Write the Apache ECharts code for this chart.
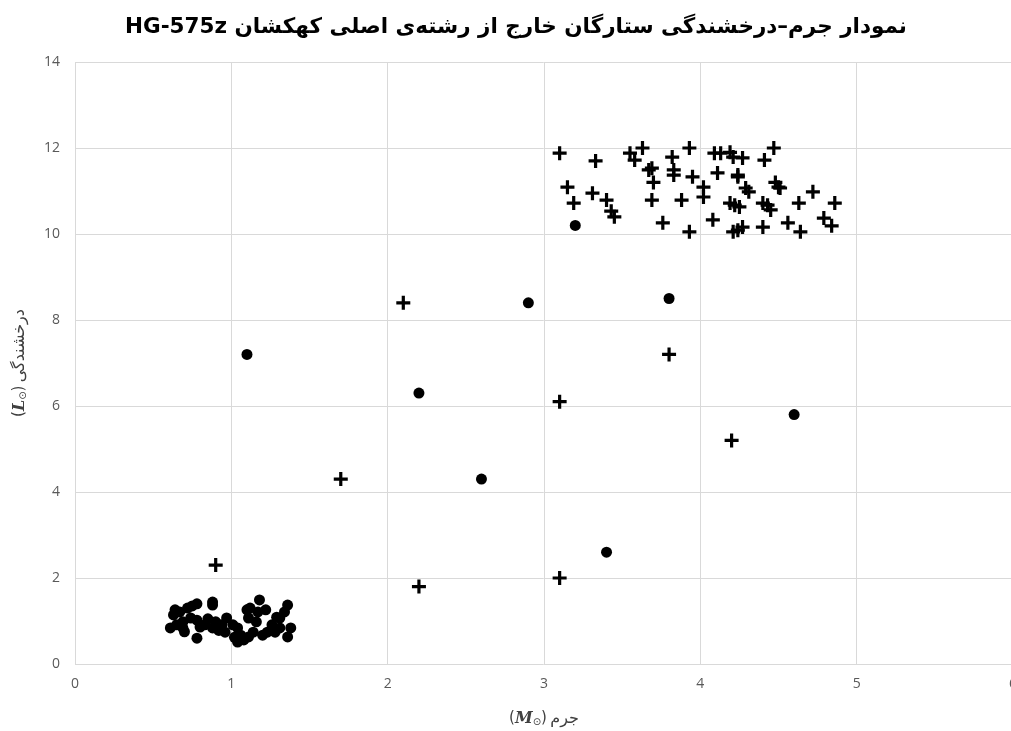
<!DOCTYPE html>
<html>
<head>
<meta charset="utf-8">
<script src="https://cdn.jsdelivr.net/npm/echarts@6/dist/echarts.min.js"></script>
<style>
html,body{margin:0;padding:0;background:#fff;}
#chart{width:1011px;height:731px;}
</style>
</head>
<body>
<div id="chart"></div>
<script>
// ---- data ----
const titleText = "نمودار جرم–درخشندگی ستارگان خارج از رشته‌ی اصلی کهکشان HG-575z";
const xTicks = [0, 1, 2, 3, 4, 5, 6];
const yTicks = [0, 2, 4, 6, 8, 10, 12, 14];

// filled circles
const circleX = [3.2, 2.9, 3.8, 1.1, 2.2, 4.6, 2.6, 3.4,
  0.64, 0.63, 0.67, 0.72, 0.75, 0.78, 0.88, 0.88, 0.61, 0.65, 0.69, 0.74,
  0.69, 0.78, 0.80, 0.78, 0.83, 0.88, 0.90, 0.94, 0.97, 0.96, 1.01, 1.04,
  1.06, 1.08, 1.04, 1.11, 1.10, 1.11, 1.14, 1.16, 1.17, 1.18, 1.22, 1.20,
  1.23, 1.26, 1.29, 1.31, 1.34, 1.36, 1.28, 1.31, 1.38, 1.36, 1.12, 0.85,
  0.92, 1.02, 0.70];
const circleY = [10.2, 8.4, 8.5, 7.2, 6.3, 5.8, 4.3, 2.6,
  1.26, 1.14, 1.21, 1.30, 1.35, 1.40, 1.44, 1.37, 0.84, 0.91, 0.98, 1.07,
  0.84, 1.02, 0.86, 0.60, 0.91, 0.84, 0.98, 0.91, 1.07, 0.74, 0.91, 0.84,
  0.67, 0.56, 0.51, 1.07, 1.26, 0.63, 0.74, 0.98, 1.21, 1.49, 1.26, 0.67,
  0.74, 0.91, 1.09, 1.07, 1.21, 1.37, 0.74, 0.84, 0.84, 0.63, 1.30, 1.05,
  0.78, 0.62, 0.75];

// plus markers
const crossX = [2.1, 3.8, 3.1, 4.2, 1.7, 0.9, 2.2, 3.1,
  3.10, 3.33, 3.55, 3.63, 3.58, 3.67, 3.69, 3.70, 3.15, 3.19, 3.31, 3.40,
  3.43, 3.45, 3.69,
  3.93, 3.82, 4.09, 4.13, 4.19, 4.21, 4.27, 3.83, 3.83, 3.95, 4.11, 4.24,
  4.24, 4.02, 4.02, 4.29, 4.31, 3.88, 4.19, 4.22, 4.25, 3.76, 3.93, 4.08,
  4.21, 4.24, 4.27,
  4.47, 4.41, 4.48, 4.50, 4.51, 4.72, 4.40, 4.43, 4.45, 4.63, 4.86, 4.40,
  4.56, 4.64, 4.79, 4.84];
const crossY = [8.4, 7.2, 6.1, 5.2, 4.3, 2.3, 1.8, 2.0,
  11.88, 11.70, 11.88, 12.0, 11.72, 11.49, 11.53, 11.20, 11.09, 10.72, 10.95, 10.79,
  10.53, 10.40, 10.79,
  12.0, 11.79, 11.88, 11.88, 11.90, 11.79, 11.77, 11.49, 11.37, 11.33, 11.42, 11.33,
  11.37, 11.09, 10.86, 11.07, 10.98, 10.79, 10.72, 10.67, 10.63, 10.26, 10.05, 10.33,
  10.05, 10.09, 10.16,
  12.0, 11.72, 11.20, 11.09, 11.07, 10.98, 10.72, 10.67, 10.56, 10.72, 10.72, 10.16,
  10.26, 10.05, 10.37, 10.19];

// ---- chart ----
const circleData = circleX.map((x, i) => [x, circleY[i]]);
const crossData = crossX.map((x, i) => [x, crossY[i]]);
const plusPath = 'path://M-1.6,-7L1.6,-7L1.6,-1.6L7,-1.6L7,1.6L1.6,1.6L1.6,7L-1.6,7L-1.6,1.6L-7,1.6L-7,-1.6L-1.6,-1.6Z';
const arabicFont = '"DejaVu Sans", sans-serif';

const nameRich = {
  p: {fontFamily: arabicFont, fontSize: 15, color: '#404040'},
  m: {fontFamily: '"DejaVu Serif", serif', fontWeight: 'bold', fontStyle: 'italic', fontSize: 16, color: '#404040'},
  s: {fontFamily: '"DejaVu Sans", sans-serif', fontSize: 10, color: '#404040', verticalAlign: 'bottom', padding: [7, 0, 0, 0]},
  a: {fontFamily: arabicFont, fontSize: 16, color: '#404040'}
};

const chart = echarts.init(document.getElementById('chart'), null, {renderer: 'canvas'});
chart.setOption({
  backgroundColor: '#ffffff',
  animation: false,
  title: {
    text: '\u202B' + titleText + '\u202C',
    left: 120,
    top: 11,
    textStyle: {fontFamily: arabicFont, fontWeight: 'bold', fontSize: 21.5, color: '#000'}
  },
  grid: {left: 75, right: -2, top: 62, bottom: 67, containLabel: false, outerBoundsMode: 'none'},
  xAxis: {
    type: 'value',
    min: xTicks[0], max: xTicks[xTicks.length - 1], interval: 1,
    axisLine: {show: false}, axisTick: {show: false},
    splitLine: {show: true, lineStyle: {color: '#d9d9d9', width: 1}},
    axisLabel: {color: '#595959', fontSize: 14, fontFamily: '"Open Sans", sans-serif', margin: 13},
    name: '{p|(}{m|M}{s|⊙}{p|)} {a|جرم}',
    nameLocation: 'middle',
    nameGap: 46,
    nameTextStyle: {rich: nameRich}
  },
  yAxis: {
    type: 'value',
    min: yTicks[0], max: yTicks[yTicks.length - 1], interval: 2,
    axisLine: {show: false}, axisTick: {show: false},
    splitLine: {show: true, lineStyle: {color: '#d9d9d9', width: 1}},
    axisLabel: {color: '#595959', fontSize: 14, fontFamily: '"Open Sans", sans-serif', margin: 15},
    name: '{p|(}{m|L}{s|⊙}{p|)} {a|درخشندگی}',
    nameLocation: 'middle',
    nameGap: 47,
    nameRotate: 90,
    nameTextStyle: {rich: nameRich}
  },
  series: [
    {
      name: 'circles',
      type: 'scatter',
      data: circleData,
      symbol: 'circle',
      symbolSize: 11,
      itemStyle: {color: '#000', opacity: 1},
      silent: true
    },
    {
      name: 'crosses',
      type: 'scatter',
      data: crossData,
      symbol: plusPath,
      symbolSize: 14,
      itemStyle: {color: '#000', opacity: 1},
      silent: true
    }
  ]
});
</script>
</body>
</html>
